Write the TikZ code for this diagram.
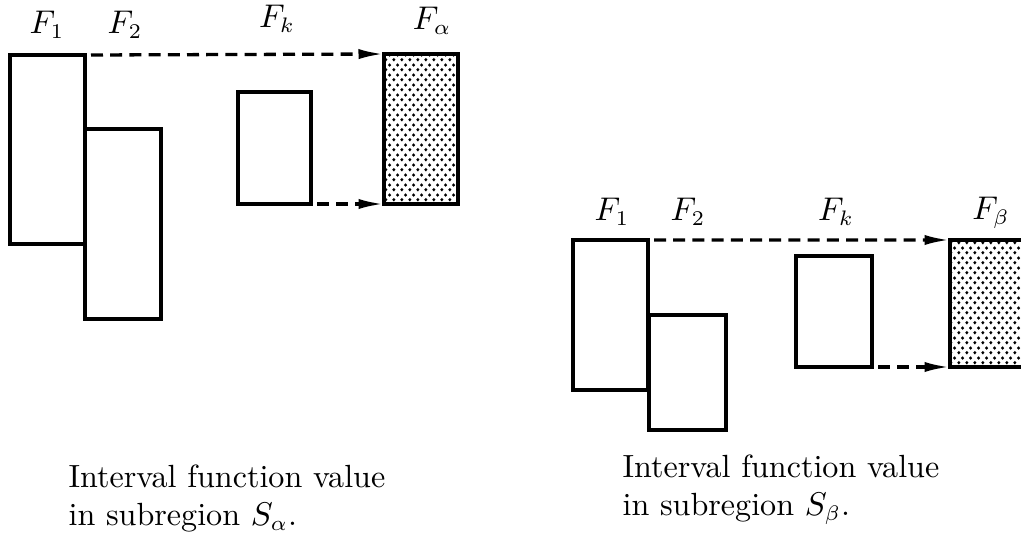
\documentclass[tikz,border=0pt]{standalone}
\usetikzlibrary{arrows.meta,fit,patterns}
\pgfdeclarepatternformonly{fdots}{\pgfqpoint{0pt}{0pt}}{\pgfqpoint{2.73pt}{3.2pt}}{\pgfqpoint{2.73pt}{3.2pt}}{%
  \pgfpathcircle{\pgfqpoint{0.68pt}{0.8pt}}{0.6pt}%
  \pgfpathcircle{\pgfqpoint{2.05pt}{2.4pt}}{0.6pt}%
  \pgfusepath{fill}}
\tikzset{
  fbox/.style={draw, line width=1.1pt, inner sep=0pt, outer sep=0pt},
  shaded/.style={fbox, pattern=fdots},
  dasharrow/.style={line width=1.1pt, dash pattern=on 4pt off 2.4pt, -{Latex[length=8.5pt,width=3.4pt]}},
  flabel/.style={inner sep=0pt, font=\fontsize{10.5}{12}\selectfont},
  caption/.style={inner sep=0pt, anchor=base west, align=left, font=\fontsize{10.7}{12.8}\selectfont}
}
\begin{document}
\begin{tikzpicture}[x=0.33333pt,y=-0.33333pt]
\useasboundingbox (0,0) rectangle (1021,538);
% left diagram
\node[fbox, fit={(10,55)(85,244)}] (a1) {};
\node[fbox, fit={(85,129)(161,319)}] (a2) {};
\node[fbox, fit={(238,92)(311,204)}] (ak) {};
\node[shaded, fit={(384,54)(458,204)}] (aa) {};
\node[flabel] (la1) at (47,25) {$F_1$};
\node[flabel] (la2) at (125,25) {$F_2$};
\node[flabel] (lak) at (277,19) {$F_k$};
\node[flabel] (laa) at (432,21) {$F_\alpha$};
\draw[dasharrow] ([xshift=2pt]a1.north east) -- (aa.north west);
\draw[dasharrow] ([xshift=2pt]ak.south east) -- (aa.south west);
\node[caption] (ca) at (68,526) {Interval function value\\in subregion $S_\alpha$.};
% right diagram
\node[fbox, fit={(573,240)(648,390)}] (b1) {};
\node[fbox, fit={(649,315)(726,430)}] (b2) {};
\node[fbox, fit={(796,256)(872,367)}] (bk) {};
\node[inner sep=0pt, outer sep=0pt, pattern=fdots, fit={(950,240)(1021,367)}] (bb) {};
\draw[line width=1.1pt] (bb.north east) -- (bb.north west) -- (bb.south west) -- (bb.south east);
\node[flabel] (lb1) at (612,212) {$F_1$};
\node[flabel] (lb2) at (688,212) {$F_2$};
\node[flabel] (lbk) at (836,212) {$F_k$};
\node[flabel] (lbb) at (991,213) {$F_\beta$};
\draw[dasharrow] ([xshift=2pt]b1.north east) -- (bb.north west);
\draw[dasharrow] ([xshift=2pt]bk.south east) -- (bb.south west);
\node[caption] (cb) at (622,516) {Interval function value\\in subregion $S_\beta$.};
\end{tikzpicture}
\end{document}
